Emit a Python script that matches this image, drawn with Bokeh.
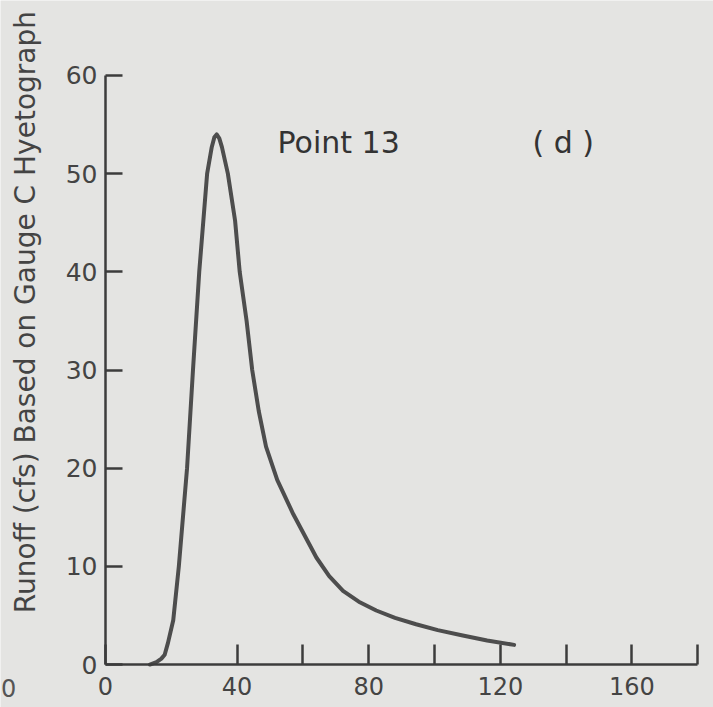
import math
from bokeh.plotting import figure
from bokeh.models import Range1d, FixedTicker, Label
from bokeh.embed import file_html
from bokeh.resources import INLINE

# ---- data ----
time_min = [13.5, 15.5, 17.0, 18.0, 19.0, 20.6, 22.3, 24.8, 26.6, 28.5, 30.9,
            32.3, 33.1, 33.8, 34.6, 35.4, 37.2, 39.4, 40.8, 42.9, 44.6, 46.6,
            48.8, 52.2, 57.1, 64.1, 68.0, 72.2, 77.0, 82.3, 88.0, 94.4, 101.0,
            108.6, 116.0, 124.2]
runoff_cfs = [0.0, 0.25, 0.6, 1.0, 2.2, 4.5, 10.0, 20.0, 30.0, 40.0, 50.0,
              52.7, 53.7, 54.0, 53.6, 52.7, 50.0, 45.2, 40.0, 35.0, 30.0, 25.8,
              22.2, 18.8, 15.3, 10.9, 9.0, 7.5, 6.4, 5.5, 4.75, 4.1, 3.5,
              2.95, 2.45, 2.0]
x_ticks = [0, 40, 60, 80, 100, 120, 140, 160, 180]
x_tick_labels = {0: "0", 40: "40", 60: "", 80: "80", 100: "", 120: "120",
                 140: "", 160: "160", 180: ""}
y_ticks = [0, 10, 20, 30, 40, 50, 60]
title_text = "Point 13"
panel_text = "( d )"
y_title = "Runoff (cfs) Based on Gauge C Hyetograph"

paper = "#e4e4e2"
ink = "#3c3c3c"
font = "DejaVu Sans"

# frame covers the whole page; axes are pinned at x=0 / y=0 inside it
p = figure(width=713, height=707, output_backend="svg", toolbar_location=None,
           x_range=Range1d(-31.9, 184.8), y_range=Range1d(-4.38, 67.64),
           min_border=0, min_border_left=0, min_border_right=0,
           min_border_top=0, min_border_bottom=0)
p.background_fill_color = paper
p.border_fill_color = paper
p.outline_line_color = None
p.grid.visible = False

# x axis
xa = p.xaxis[0]
xa.fixed_location = 0
xa.ticker = FixedTicker(ticks=x_ticks)
xa.major_label_overrides = x_tick_labels
xa.bounds = (0, 180)
xa.major_tick_in = 20
xa.major_tick_out = 0
xa.minor_tick_line_color = None
xa.axis_line_width = 2.5
xa.axis_line_color = ink
xa.major_tick_line_width = 2.5
xa.major_tick_line_color = ink
xa.major_label_text_font = font
xa.major_label_text_font_size = "24px"
xa.major_label_text_color = "#444444"
xa.major_label_standoff = 12

# y axis
ya = p.yaxis[0]
ya.fixed_location = 0
ya.ticker = FixedTicker(ticks=y_ticks)
ya.bounds = (0, 60)
ya.major_tick_in = 17
ya.major_tick_out = 0
ya.minor_tick_line_color = None
ya.axis_line_width = 2.5
ya.axis_line_color = ink
ya.major_tick_line_width = 2.5
ya.major_tick_line_color = ink
ya.major_label_text_font = font
ya.major_label_text_font_size = "25px"
ya.major_label_text_color = "#444444"
ya.major_label_standoff = 8

# curve
p.line(time_min, runoff_cfs, line_color="#4d4d4d", line_width=4,
       line_join="round", line_cap="round")

# texts
p.add_layout(Label(x=52.3, y=53.2, text=title_text, text_font=font,
                   text_font_size="30px", text_color="#333333",
                   text_baseline="alphabetic"))
p.add_layout(Label(x=129.8, y=53.2, text=panel_text, text_font=font,
                   text_font_size="30px", text_color="#333333",
                   text_baseline="alphabetic"))
p.add_layout(Label(x=-24.3, y=35.9, text=y_title, angle=math.pi / 2,
                   text_align="center", text_baseline="middle",
                   text_font=font, text_font_size="28px",
                   text_color="#444444"))
p.add_layout(Label(x=-29.4, y=-2.44, text="0", text_align="center",
                   text_baseline="middle", text_font=font,
                   text_font_size="24px", text_color="#555555"))

open("out.html", "w").write(file_html(p, INLINE))
